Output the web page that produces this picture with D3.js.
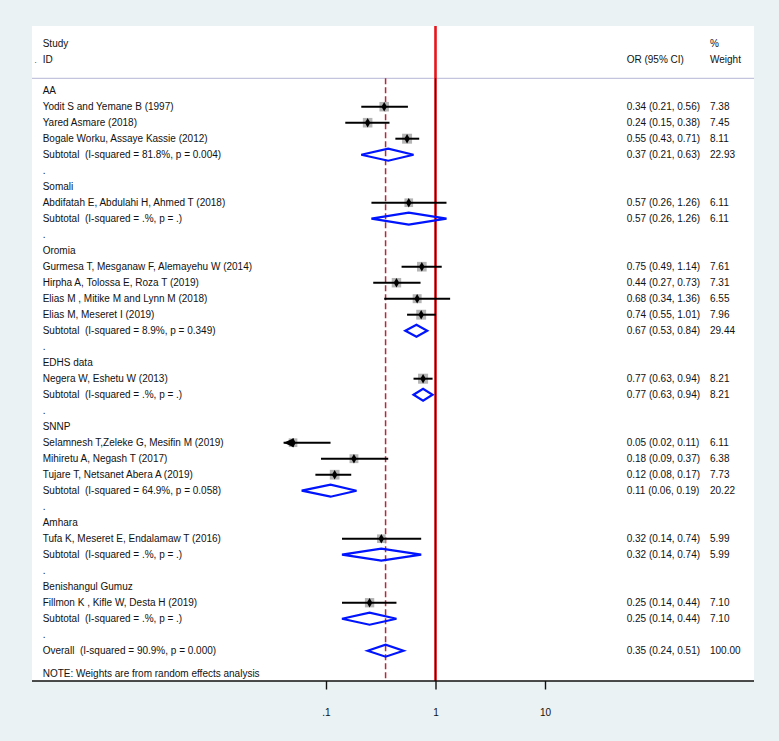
<!DOCTYPE html>
<html>
<head>
<meta charset="utf-8">
<script src="https://cdn.jsdelivr.net/npm/d3@7"></script>
<style>
  body { margin: 0; background: #eaf2f3; }
  text { font-family: "Liberation Sans", Arial, sans-serif; font-size: 10px; fill: #111; white-space: pre; }
</style>
</head>
<body>
<script>
// regions, in plot order
let groups = ['AA', 'Somali', 'Oromia', 'EDHS data', 'SNNP', 'Amhara', 'Benishangul Gumuz'];

// individual studies
let studyNames = [
  'Yodit S and Yemane B (1997)',
  'Yared Asmare (2018)',
  'Bogale Worku, Assaye Kassie (2012)',
  'Abdifatah E, Abdulahi H, Ahmed T (2018)',
  'Gurmesa T, Mesganaw F, Alemayehu W (2014)',
  'Hirpha A, Tolossa E, Roza T (2019)',
  'Elias M , Mitike M and Lynn M (2018)',
  'Elias M, Meseret I (2019)',
  'Negera W, Eshetu W (2013)',
  'Selamnesh T,Zeleke G, Mesifin M (2019)',
  'Mihiretu A, Negash T (2017)',
  'Tujare T, Netsanet Abera A (2019)',
  'Tufa K, Meseret E, Endalamaw T (2016)',
  'Fillmon K , Kifle W, Desta H (2019)'
];
let studyGroup = [0, 0, 0, 1, 2, 2, 2, 2, 3, 4, 4, 4, 5, 6];
let studyOR = [0.34, 0.24, 0.55, 0.57, 0.75, 0.44, 0.68, 0.74, 0.77, 0.05, 0.18, 0.12, 0.32, 0.25];
let studyLo = [0.21, 0.15, 0.43, 0.26, 0.49, 0.27, 0.34, 0.55, 0.63, 0.02, 0.09, 0.08, 0.14, 0.14];
let studyHi = [0.56, 0.38, 0.71, 1.26, 1.14, 0.73, 1.36, 1.01, 0.94, 0.11, 0.37, 0.17, 0.74, 0.44];
let studyWeight = [7.38, 7.45, 8.11, 6.11, 7.61, 7.31, 6.55, 7.96, 8.21, 6.11, 6.38, 7.73, 5.99, 7.10];

// subgroup pooled estimates
let subI2 = ['81.8%', '.%', '8.9%', '.%', '64.9%', '.%', '.%'];
let subP = ['0.004', '.', '0.349', '.', '0.058', '.', '.'];
let subOR = [0.37, 0.57, 0.67, 0.77, 0.11, 0.32, 0.25];
let subLo = [0.21, 0.26, 0.53, 0.63, 0.06, 0.14, 0.14];
let subHi = [0.63, 1.26, 0.84, 0.94, 0.19, 0.74, 0.44];
let subWeight = [22.93, 6.11, 29.44, 8.21, 20.22, 5.99, 7.10];

// overall
let overallI2 = '90.9%', overallP = '0.000';
let overallOR = 0.35, overallLo = 0.24, overallHi = 0.51, overallWeight = 100.00;

let tickValues = [0.1, 1, 10];
let tickLabels = ['.1', '1', '10'];
let xFloor = 0.041; // left end of the plot region, CIs below get an arrow

var width = 779, height = 741;
var panel = {left: 32, right: 754, top: 26, bottom: 681};
var headLine = 78.3, firstRow = 90.7, rowH = 16;
var textX = 42.7, orX = 626.7, wtX = 710;

var fmt = d3.format('.2f');

// build the row list
var rows = [];
groups.forEach(function (g, gi) {
  rows.push({type: 'head', label: g});
  studyNames.forEach(function (n, i) {
    if (studyGroup[i] !== gi) return;
    rows.push({type: 'study', label: n, or: studyOR[i], lo: studyLo[i], hi: studyHi[i], w: studyWeight[i]});
  });
  rows.push({type: 'sub', label: 'Subtotal  (I-squared = ' + subI2[gi] + ', p = ' + subP[gi] + ')',
    or: subOR[gi], lo: subLo[gi], hi: subHi[gi], w: subWeight[gi]});
  rows.push({type: 'dot', label: '.'});
});
rows.push({type: 'overall', label: 'Overall  (I-squared = ' + overallI2 + ', p = ' + overallP + ')',
  or: overallOR, lo: overallLo, hi: overallHi, w: overallWeight});

var x = d3.scaleLog().domain([0.1, 10]).range([326, 545]);
var y = function (i) { return firstRow + i * rowH; };

var svg = d3.select('body').append('svg')
  .attr('width', width)
  .attr('height', height);

svg.append('rect')
  .attr('x', panel.left).attr('y', panel.top)
  .attr('width', panel.right - panel.left).attr('height', panel.bottom - panel.top)
  .attr('fill', '#fff');

// header
svg.append('text').attr('x', textX).attr('y', 46.5).text('Study');
svg.append('text').attr('x', textX).attr('y', 63).text('ID');
svg.append('text').attr('x', 34.5).attr('y', 63).text('.').style('font-size', '8px');
svg.append('text').attr('x', orX).attr('y', 63).text('OR (95% CI)');
svg.append('text').attr('x', wtX).attr('y', 46.5).text('%');
svg.append('text').attr('x', wtX).attr('y', 63).text('Weight');

svg.append('line')
  .attr('x1', panel.left).attr('x2', panel.right)
  .attr('y1', headLine).attr('y2', headLine)
  .attr('stroke', '#c4c4de').attr('stroke-width', 1.2);

// reference lines
svg.append('line')
  .attr('x1', x(1)).attr('x2', x(1))
  .attr('y1', panel.top).attr('y2', panel.bottom)
  .attr('stroke', '#e8141c').attr('stroke-width', 2.6);
svg.append('line')
  .attr('x1', x(1)).attr('x2', x(1))
  .attr('y1', headLine).attr('y2', panel.bottom)
  .attr('stroke', '#3a0000').attr('stroke-width', 1.2);
svg.append('line')
  .attr('x1', x(overallOR)).attr('x2', x(overallOR))
  .attr('y1', headLine).attr('y2', panel.bottom)
  .attr('stroke', '#b8273a').attr('stroke-width', 1.5)
  .attr('stroke-dasharray', '6,3');

// labels and value columns
var rowG = svg.selectAll('.row').data(rows).enter().append('g')
  .attr('class', 'row')
  .attr('transform', function (d, i) { return 'translate(0,' + y(i) + ')'; });

rowG.append('text')
  .attr('x', textX).attr('y', 3.5)
  .text(function (d) { return d.label; });

rowG.filter(function (d) { return d.or !== undefined; }).append('text')
  .attr('x', orX).attr('y', 3.5)
  .text(function (d) { return fmt(d.or) + ' (' + fmt(d.lo) + ', ' + fmt(d.hi) + ')'; });

rowG.filter(function (d) { return d.or !== undefined; }).append('text')
  .attr('x', wtX).attr('y', 3.5)
  .text(function (d) { return fmt(d.w); });

// study markers: weight boxes, CI lines, point
var st = rowG.filter(function (d) { return d.type === 'study'; });

st.append('rect')
  .attr('x', function (d) { return x(d.or) - 1.75 * Math.sqrt(d.w); })
  .attr('y', function (d) { return -1.75 * Math.sqrt(d.w); })
  .attr('width', function (d) { return 3.5 * Math.sqrt(d.w); })
  .attr('height', function (d) { return 3.5 * Math.sqrt(d.w); })
  .attr('fill', '#b5b5b5');

st.append('line')
  .attr('x1', function (d) { return x(Math.max(d.lo, xFloor)); })
  .attr('x2', function (d) { return x(d.hi); })
  .attr('stroke', '#000').attr('stroke-width', 2);

st.filter(function (d) { return d.lo < xFloor; }).append('path')
  .attr('d', function () {
    var x0 = x(xFloor);
    return 'M' + x0 + ',0L' + (x0 + 10) + ',-4.5L' + (x0 + 10) + ',4.5Z';
  })
  .attr('fill', '#000');

st.append('path')
  .attr('d', d3.symbol().type(d3.symbolDiamond).size(26))
  .attr('transform', function (d) { return 'translate(' + x(d.or) + ',0)'; })
  .attr('fill', '#000');

// pooled diamonds
rowG.filter(function (d) { return d.type === 'sub' || d.type === 'overall'; }).append('path')
  .attr('d', function (d) {
    return 'M' + x(d.lo) + ',0L' + x(d.or) + ',-6L' + x(d.hi) + ',0L' + x(d.or) + ',6Z';
  })
  .attr('fill', 'none')
  .attr('stroke', '#0014ff').attr('stroke-width', 2.2);

svg.append('text').attr('x', textX).attr('y', 676.5)
  .text('NOTE: Weights are from random effects analysis');

// x axis
svg.append('line')
  .attr('x1', panel.left).attr('x2', panel.right)
  .attr('y1', panel.bottom).attr('y2', panel.bottom)
  .attr('stroke', '#111').attr('stroke-width', 1.6);

var axis = d3.axisBottom(x)
  .tickValues(tickValues)
  .tickFormat(function (d, i) { return tickLabels[i]; })
  .tickSize(8.5)
  .tickPadding(19);

var ax = svg.append('g')
  .attr('transform', 'translate(0,' + panel.bottom + ')')
  .call(axis);
ax.select('.domain').remove();
ax.selectAll('line').attr('stroke', '#111').attr('stroke-width', 1.4);
ax.selectAll('text').attr('font-family', null).attr('font-size', null).attr('fill', '#111');
</script>
</body>
</html>
